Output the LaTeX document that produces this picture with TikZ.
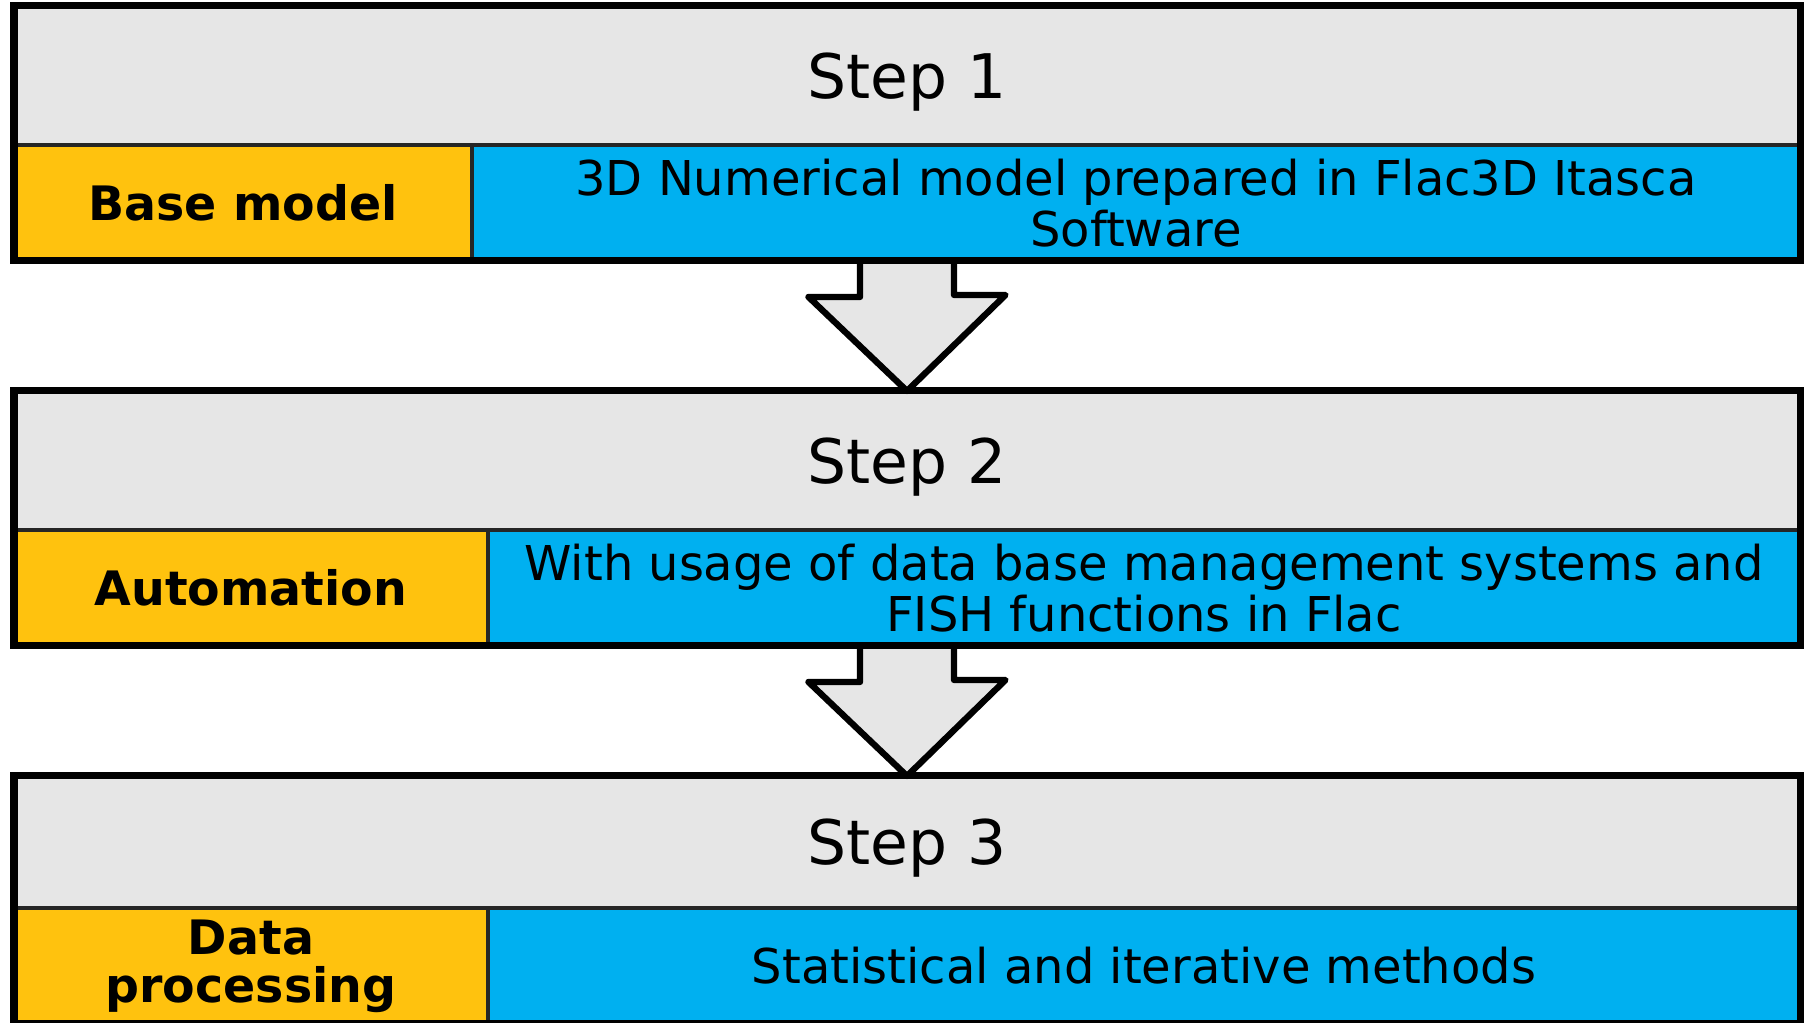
\documentclass[tikz,border=0pt]{standalone}
\usepackage{fontspec}
\setmainfont{DejaVu Sans}
\usepackage{xcolor}
\usepackage{tikz}
\usetikzlibrary{positioning, calc}

\definecolor{stepgray}{HTML}{E6E6E6}
\definecolor{labelyellow}{HTML}{FFC20E}
\definecolor{descblue}{HTML}{00B0F0}

\begin{document}
\begin{tikzpicture}[
    every node/.style={outer sep=0pt},
    titlebox/.style={rectangle, fill=stepgray, minimum width=178.6mm, minimum height=13.9mm, inner sep=0pt, text depth=0pt, font=\fontsize{17.5}{20}\selectfont},
    labelbox/.style={rectangle, draw=black!85, fill=labelyellow, line width=1.2pt, minimum height=11.6mm, inner sep=0pt, align=center, font=\fontsize{13.5}{13.6}\selectfont\bfseries},
    descbox/.style={rectangle, draw=black!85, fill=descblue, line width=1.2pt, minimum height=11.6mm, inner sep=0pt, align=center, font=\fontsize{13.65}{14.4}\selectfont},
    frame/.style={draw=black, line width=2pt},
    bigarrow/.style={draw=black, fill=stepgray, line width=1.8pt, line join=round}
]
\useasboundingbox (0,0) rectangle (18.04,10.23);

% Step 1
\node[titlebox] (t1) at (9.07, 9.475) {Step 1};
\node[labelbox, minimum width=45.8mm, anchor=north west] (l1) at (t1.south west) {Base model};
\node[descbox, minimum width=132.8mm, anchor=north west] (d1) at (l1.north east) {3D Numerical model prepared in Flac3D Itasca\\Software};
\coordinate (a1) at (t1.south |- d1.south);

% Step 2
\node[titlebox, below=13mm of a1] (t2) {Step 2};
\node[labelbox, minimum width=47.4mm, anchor=north west] (l2) at (t2.south west) {Automation};
\node[descbox, minimum width=131.2mm, anchor=north west] (d2) at (l2.north east) {With usage of data base management systems and\\FISH functions in Flac};
\coordinate (a2) at (t2.south |- d2.south);

% Step 3
\node[titlebox, minimum height=13.2mm, below=13mm of a2] (t3) {Step 3};
\node[labelbox, minimum width=47.4mm, anchor=north west] (l3) at (t3.south west) {Data\\processing};
\node[descbox, minimum width=131.2mm, anchor=north west] (d3) at (l3.north east) {Statistical and iterative methods};

% Arrows between steps
\draw[bigarrow] ([xshift=-4.7mm]a1) -- ++(0,-3.6mm) -- ++(-5.15mm,0) -- (t2.north) -- ++(9.85mm,9.6mm) -- ++(-5.15mm,0) -- ++(0,3.6mm);
\draw[bigarrow] ([xshift=-4.7mm]a2) -- ++(0,-3.6mm) -- ++(-5.15mm,0) -- (t3.north) -- ++(9.85mm,9.6mm) -- ++(-5.15mm,0) -- ++(0,3.6mm);

% Outer frames
\draw[frame] (t1.north west) rectangle (d1.south east);
\draw[frame] (t2.north west) rectangle (d2.south east);
\draw[frame] (t3.north west) rectangle (d3.south east);

\end{tikzpicture}
\end{document}
